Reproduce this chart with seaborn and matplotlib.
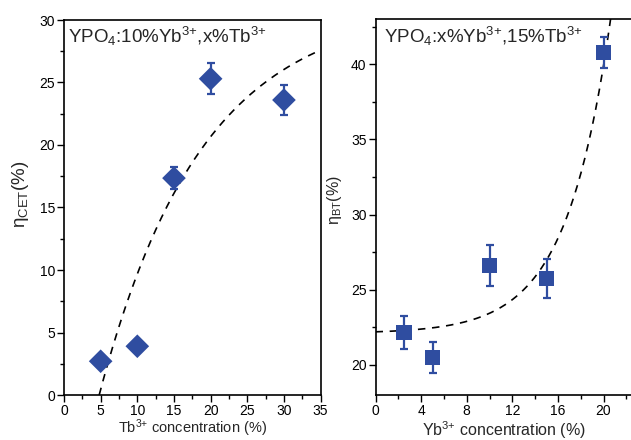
import numpy as np
import pandas as pd
import matplotlib
matplotlib.use("Agg")
import matplotlib.pyplot as plt
import seaborn as sns
from matplotlib.ticker import MultipleLocator

# YPO4:10%Yb3+, x%Tb3+  -> cooperative energy transfer efficiency
tb_conc = [5, 10, 15, 20, 30]
eta_cet = [2.7, 3.9, 17.35, 25.3, 23.6]
eta_cet_err = [0.4, 0.4, 0.9, 1.25, 1.2]

# YPO4:x%Yb3+, 15%Tb3+  -> back-transfer efficiency
yb_conc = [2.5, 5, 10, 15, 20]
eta_bt = [22.15, 20.5, 26.6, 25.75, 40.75]
eta_bt_err = [1.1, 1.05, 1.37, 1.3, 1.03]

# fitted trend lines
cet_fit = dict(amp=31.2, x0=4.8, tau=14.0)     # y = amp * (1 - exp(-(x - x0) / tau))
bt_fit = dict(base=22.1, amp=0.1, tau=3.86)    # y = base + amp * exp(x / tau)

BLUE = "#2F4DA0"

sns.set_theme(style="ticks")
plt.rcParams["font.family"] = ["Liberation Sans", "DejaVu Sans"]
plt.rcParams["mathtext.fontset"] = "custom"
plt.rcParams["mathtext.rm"] = "Liberation Sans"
plt.rcParams["mathtext.it"] = "Liberation Sans:italic"
plt.rcParams["axes.linewidth"] = 1.2

fig = plt.figure(figsize=(6.31, 4.40), dpi=100)
W, H = 631, 440
ax1 = fig.add_axes([64 / W, 45 / H, 256.6 / W, 375 / H])
ax2 = fig.add_axes([375.5 / W, 45 / H, 256.5 / W, 376 / H])

df1 = pd.DataFrame({"x": tb_conc, "y": eta_cet, "err": eta_cet_err})
df2 = pd.DataFrame({"x": yb_conc, "y": eta_bt, "err": eta_bt_err})

xf1 = np.linspace(cet_fit["x0"], 35, 200)
fit1 = pd.DataFrame({"x": xf1,
                     "y": cet_fit["amp"] * (1 - np.exp(-(xf1 - cet_fit["x0"]) / cet_fit["tau"]))})
xf2 = np.linspace(0, 21, 200)
fit2 = pd.DataFrame({"x": xf2, "y": bt_fit["base"] + bt_fit["amp"] * np.exp(xf2 / bt_fit["tau"])})

dash = (0, (4.5, 4))

# left panel
sns.lineplot(data=fit1, x="x", y="y", ax=ax1, color="black", lw=1.2, linestyle=dash, zorder=1)
ax1.errorbar(df1["x"], df1["y"], yerr=df1["err"], fmt="none", ecolor=BLUE,
             elinewidth=1.6, capsize=3, capthick=1.6, zorder=2)
sns.scatterplot(data=df1, x="x", y="y", ax=ax1, marker="D", s=145, color=BLUE,
                edgecolor="none", zorder=3)

# right panel
sns.lineplot(data=fit2, x="x", y="y", ax=ax2, color="black", lw=1.2, linestyle=dash, zorder=1)
ax2.errorbar(df2["x"], df2["y"], yerr=df2["err"], fmt="none", ecolor=BLUE,
             elinewidth=1.6, capsize=3, capthick=1.6, zorder=2)
sns.scatterplot(data=df2, x="x", y="y", ax=ax2, marker="s", s=120, color=BLUE,
                edgecolor="none", zorder=3)

ax1.set_xlim(0, 35)
ax1.set_ylim(0, 30)
ax1.xaxis.set_major_locator(MultipleLocator(5))
ax1.xaxis.set_minor_locator(MultipleLocator(2.5))
ax1.yaxis.set_major_locator(MultipleLocator(5))
ax1.yaxis.set_minor_locator(MultipleLocator(2.5))

ax2.set_xlim(0, 22.5)
ax2.set_ylim(18, 43)
ax2.xaxis.set_major_locator(MultipleLocator(4))
ax2.xaxis.set_minor_locator(MultipleLocator(2))
ax2.yaxis.set_major_locator(MultipleLocator(5))
ax2.yaxis.set_minor_locator(MultipleLocator(2.5))

for ax in (ax1, ax2):
    for sp in ax.spines.values():
        sp.set_visible(True)
        sp.set_color("black")
        sp.set_linewidth(1.2)
    ax.tick_params(which="major", direction="out", length=5, width=1.0,
                   labelsize=10, color="black", labelcolor="black", pad=1.5)
    ax.tick_params(which="minor", direction="out", length=3, width=1.0, color="black")

ax1.set_xlabel("Tb$^{3{+}}$ concentration (%)", fontsize=10.5, va="baseline")
ax1.xaxis.set_label_coords(0.5, -0.1)
ax1.set_ylabel("η$_\\mathregular{CET}$(%)", fontsize=13.5, va="center")
ax1.yaxis.set_label_coords(-0.171, 0.535)

ax2.set_xlabel("Yb$^{3{+}}$ concentration (%)", fontsize=11.5, va="baseline")
ax2.xaxis.set_label_coords(0.5, -0.108)
ax2.set_ylabel("η$_\\mathregular{BT}$(%)", fontsize=11.5, va="center")
ax2.yaxis.set_label_coords(-0.158, 0.519)

ax1.text(0.0175, 0.9387, "YPO$_4$:10%Yb$^{3{+}}$,x%Tb$^{3{+}}$", transform=ax1.transAxes,
         ha="left", va="baseline", fontsize=13.5)
ax2.text(0.035, 0.936, "YPO$_4$:x%Yb$^{3{+}}$,15%Tb$^{3{+}}$", transform=ax2.transAxes,
         ha="left", va="baseline", fontsize=13.5)

fig.savefig("out.png", dpi=100)
